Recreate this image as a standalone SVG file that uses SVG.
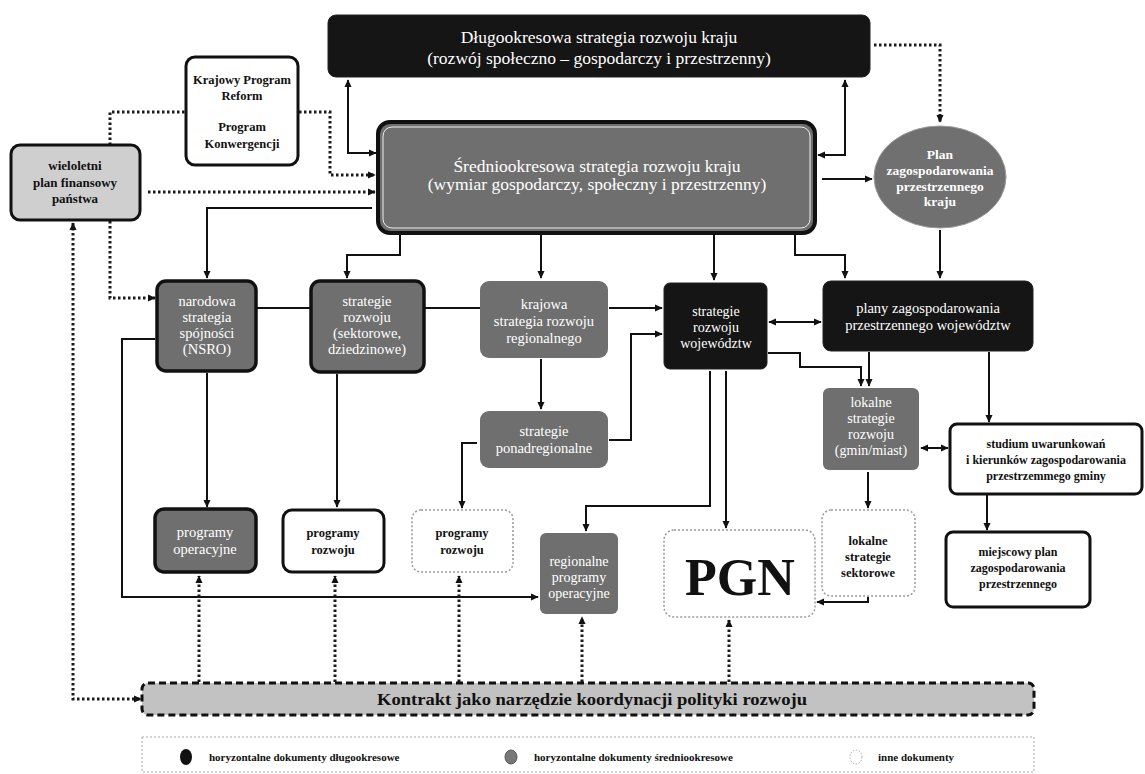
<svg xmlns="http://www.w3.org/2000/svg" width="1145" height="774" viewBox="0 0 1145 774">
<defs>
<marker id="ah" viewBox="0 0 10 10" refX="9" refY="5" markerWidth="8" markerHeight="8" markerUnits="userSpaceOnUse" orient="auto-start-reverse"><path d="M0,0.5 L10,5 L0,9.5 z" fill="#111"/></marker>
<style>
.t{font-family:"Liberation Serif","DejaVu Serif",serif;text-anchor:middle}
.w{fill:#fff}
.k{fill:#111;font-weight:bold}
.g{font-size:14.5px}
.blk{fill:#151515;stroke:#222;stroke-width:1}
.gry{fill:#6f6f6f}
.gryb{fill:#6f6f6f;stroke:#111;stroke-width:3.5}
.wht{fill:#fff;stroke:#111;stroke-width:3}
.dot{fill:#fff;stroke:#999;stroke-width:1.5;stroke-dasharray:2 2}
.ln{fill:none;stroke:#111;stroke-width:2}
.dl{fill:none;stroke:#1a1a1a;stroke-width:3;stroke-dasharray:2.5 2.5}
</style>
</defs>
<rect width="1145" height="774" fill="#fff"/>

<g id="connectors">
<path class="ln" d="M348,80 V153 H376" marker-start="url(#ah)" marker-end="url(#ah)"/>
<path class="ln" d="M845,80 V155 H818" marker-start="url(#ah)" marker-end="url(#ah)"/>
<path class="dl" d="M874,45 H940 V122" marker-end="url(#ah)"/>
<path class="ln" d="M822,179 H872" marker-end="url(#ah)"/>
<path class="ln" d="M940,230 V278" marker-end="url(#ah)"/>
<path class="ln" d="M795,234 V255 H845 V278" marker-end="url(#ah)"/>
<path class="ln" d="M714,234 V280" marker-end="url(#ah)"/>
<path class="ln" d="M541,234 V278" marker-end="url(#ah)"/>
<path class="ln" d="M400,234 V255 H347 V278" marker-end="url(#ah)"/>
<path class="ln" d="M372,208 H207 V278" marker-end="url(#ah)"/>
<path class="dl" d="M148,192 H375" marker-end="url(#ah)"/>
<path class="dl" d="M110,145 V112 H186"/>
<path class="dl" d="M299,112 H330 V175 H375" marker-end="url(#ah)"/>
<path class="dl" d="M110,221 V298 H155" marker-end="url(#ah)"/>
<path class="dl" d="M73,223 V699 H141" marker-start="url(#ah)" marker-end="url(#ah)"/>
<path class="ln" d="M257,308 H311"/>
<path class="ln" d="M424,308 H480"/>
<path class="ln" d="M207,373 V507" marker-end="url(#ah)"/>
<path class="ln" d="M337,374 V507" marker-end="url(#ah)"/>
<path class="ln" d="M541,359 V409" marker-end="url(#ah)"/>
<path class="ln" d="M609,308 H662" marker-end="url(#ah)"/>
<path class="ln" d="M609,440 H631 V334 H662" marker-end="url(#ah)"/>
<path class="ln" d="M477,443 H462 V508" marker-end="url(#ah)"/>
<path class="ln" d="M769,322 H821" marker-start="url(#ah)" marker-end="url(#ah)"/>
<path class="ln" d="M768,353 H800 V367 H861 V386" marker-end="url(#ah)"/>
<path class="ln" d="M869,352 V386" marker-end="url(#ah)"/>
<path class="ln" d="M989,352 V422" marker-end="url(#ah)"/>
<path class="ln" d="M921,448 H948" marker-start="url(#ah)" marker-end="url(#ah)"/>
<path class="ln" d="M868,472 V508" marker-end="url(#ah)"/>
<path class="ln" d="M987,495 V530" marker-end="url(#ah)"/>
<path class="ln" d="M868,597 V602 H817" marker-end="url(#ah)"/>
<path class="ln" d="M726,371 V528" marker-end="url(#ah)"/>
<path class="ln" d="M710,371 V506 H586 V531" marker-end="url(#ah)"/>
<path class="ln" d="M155,339 H122 V597 H538" marker-end="url(#ah)"/>
<path class="dl" d="M199,682 V576" marker-end="url(#ah)"/>
<path class="dl" d="M335,682 V576" marker-end="url(#ah)"/>
<path class="dl" d="M459,682 V576" marker-end="url(#ah)"/>
<path class="dl" d="M582,682 V617" marker-end="url(#ah)"/>
<path class="dl" d="M729,682 V620" marker-end="url(#ah)"/>
</g>

<g id="dlugookresowa">
<rect class="blk" x="328" y="15" width="542" height="62" rx="8"/>
<text class="t w" x="599" y="43" font-size="17.5">Długookresowa strategia rozwoju kraju</text>
<text class="t w" x="599" y="64" font-size="17.5">(rozwój społeczno – gospodarczy i przestrzenny)</text>
</g>

<g id="krajowy-program">
<rect class="wht" x="186" y="57" width="112" height="108" rx="9"/>
<text class="t k" x="242" y="84" font-size="12.5">Krajowy Program</text>
<text class="t k" x="242" y="100" font-size="12.5">Reform</text>
<text class="t k" x="242" y="131" font-size="12.5">Program</text>
<text class="t k" x="242" y="148" font-size="12.5">Konwergencji</text>
</g>

<g id="wieloletni">
<rect x="11" y="145" width="129" height="75" rx="9" fill="#cfcfcf" stroke="#111" stroke-width="3"/>
<text class="t k" x="75" y="170" font-size="13">wieloletni</text>
<text class="t k" x="75" y="187" font-size="13">plan finansowy</text>
<text class="t k" x="75" y="203" font-size="13">państwa</text>
</g>

<g id="sredniookresowa">
<rect x="378" y="122" width="437" height="111" rx="12" fill="#6f6f6f" stroke="#111" stroke-width="4"/>
<rect x="383" y="127" width="427" height="101" rx="9" fill="none" stroke="#eee" stroke-width="1"/>
<text class="t w" x="597" y="172" font-size="17.5">Średniookresowa strategia rozwoju kraju</text>
<text class="t w" x="597" y="190" font-size="17.5">(wymiar gospodarczy, społeczny i przestrzenny)</text>
</g>

<g id="plan-kraju">
<ellipse cx="940" cy="177" rx="66" ry="51" fill="#707070" stroke="#999" stroke-width="1"/>
<text class="t w" x="940" y="159" font-size="13.5" font-weight="bold">Plan</text>
<text class="t w" x="940" y="175" font-size="13.5" font-weight="bold">zagospodarowania</text>
<text class="t w" x="940" y="191" font-size="13.5" font-weight="bold">przestrzennego</text>
<text class="t w" x="940" y="206" font-size="13.5" font-weight="bold">kraju</text>
</g>

<g id="narodowa">
<rect class="gryb" x="157" y="281" width="99" height="90" rx="9"/>
<text class="t w g" x="207" y="306">narodowa</text>
<text class="t w g" x="207" y="322">strategia</text>
<text class="t w g" x="207" y="338">spójności</text>
<text class="t w g" x="207" y="354">(NSRO)</text>
</g>

<g id="strategie-rozwoju">
<rect class="gryb" x="311" y="281" width="113" height="91" rx="9"/>
<text class="t w g" x="367" y="306">strategie</text>
<text class="t w g" x="367" y="322">rozwoju</text>
<text class="t w g" x="367" y="338">(sektorowe,</text>
<text class="t w g" x="367" y="354">dziedzinowe)</text>
</g>

<g id="krajowa-strategia">
<rect class="gry" x="480" y="281" width="128" height="77" rx="9"/>
<text class="t w g" x="544" y="309">krajowa</text>
<text class="t w g" x="544" y="326">strategia rozwoju</text>
<text class="t w g" x="544" y="343">regionalnego</text>
</g>

<g id="strategie-wojewodztw">
<rect class="blk" x="664" y="283" width="103" height="86" rx="6"/>
<text class="t w" x="716" y="316" font-size="14">strategie</text>
<text class="t w" x="716" y="332" font-size="14">rozwoju</text>
<text class="t w" x="716" y="348" font-size="14">województw</text>
</g>

<g id="plany-wojewodztw">
<rect class="blk" x="823" y="281" width="210" height="70" rx="8"/>
<text class="t w" x="928" y="313" font-size="14.5">plany zagospodarowania</text>
<text class="t w" x="928" y="330" font-size="14.5">przestrzennego województw</text>
</g>

<g id="ponadregionalne">
<rect class="gry" x="480" y="411" width="128" height="57" rx="9"/>
<text class="t w g" x="544" y="436">strategie</text>
<text class="t w g" x="544" y="453">ponadregionalne</text>
</g>

<g id="lokalne-rozwoju">
<rect class="gry" x="823" y="388" width="96" height="82" rx="6"/>
<text class="t w" x="871" y="407" font-size="14">lokalne</text>
<text class="t w" x="871" y="423" font-size="14">strategie</text>
<text class="t w" x="871" y="439" font-size="14">rozwoju</text>
<text class="t w" x="871" y="455" font-size="14">(gmin/miast)</text>
</g>

<g id="studium">
<rect class="wht" x="950" y="424" width="192" height="70" rx="7"/>
<text class="t k" x="1046" y="448" font-size="12">studium uwarunkowań</text>
<text class="t k" x="1046" y="464" font-size="12">i kierunków zagospodarowania</text>
<text class="t k" x="1046" y="480" font-size="12">przestrzemmego gminy</text>
</g>

<g id="programy-operacyjne">
<rect class="gryb" x="155" y="509" width="101" height="63" rx="9"/>
<text class="t w g" x="205" y="537">programy</text>
<text class="t w g" x="205" y="554">operacyjne</text>
</g>

<g id="programy-rozwoju-1">
<rect class="wht" x="283" y="510" width="101" height="62" rx="9"/>
<text class="t k" x="333" y="537" font-size="12.5">programy</text>
<text class="t k" x="333" y="554" font-size="12.5">rozwoju</text>
</g>

<g id="programy-rozwoju-2">
<rect class="dot" x="412" y="510" width="101" height="62" rx="9"/>
<text class="t k" x="462" y="537" font-size="12.5">programy</text>
<text class="t k" x="462" y="554" font-size="12.5">rozwoju</text>
</g>

<g id="regionalne-programy">
<rect class="gry" x="540" y="533" width="78" height="81" rx="6"/>
<text class="t w" x="579" y="566" font-size="14">regionalne</text>
<text class="t w" x="579" y="582" font-size="14">programy</text>
<text class="t w" x="579" y="598" font-size="14">operacyjne</text>
</g>

<g id="pgn">
<rect class="dot" x="664" y="530" width="151" height="87" rx="10"/>
<text class="t" x="740" y="595" font-size="52" font-weight="bold" fill="#111">PGN</text>
</g>

<g id="lokalne-sektorowe">
<rect class="dot" x="822" y="510" width="93" height="86" rx="9"/>
<text class="t k" x="868" y="545" font-size="12.5">lokalne</text>
<text class="t k" x="868" y="561" font-size="12.5">strategie</text>
<text class="t k" x="868" y="577" font-size="12.5">sektorowe</text>
</g>

<g id="miejscowy-plan">
<rect class="wht" x="946" y="532" width="144" height="75" rx="7"/>
<text class="t k" x="1018" y="556" font-size="12">miejscowy plan</text>
<text class="t k" x="1018" y="572" font-size="12">zagospodarowania</text>
<text class="t k" x="1018" y="588" font-size="12">przestrzennego</text>
</g>

<g id="kontrakt">
<rect x="142" y="683" width="892" height="32" rx="6" fill="#c2c2c2" stroke="#111" stroke-width="3" stroke-dasharray="7 4"/>
<text class="t k" x="592" y="705" font-size="17" textLength="430" lengthAdjust="spacingAndGlyphs">Kontrakt jako narzędzie koordynacji polityki rozwoju</text>
</g>

<g id="legenda">
<rect x="142" y="737" width="892" height="35" fill="none" stroke="#aaa" stroke-width="1" stroke-dasharray="2 2"/>
<ellipse cx="186" cy="757" rx="6" ry="8" fill="#111"/>
<text x="209" y="761" font-family="Liberation Serif, DejaVu Serif, serif" font-size="11" font-weight="bold" fill="#111">horyzontalne dokumenty długookresowe</text>
<ellipse cx="511" cy="757" rx="6" ry="7" fill="#777" stroke="#555" stroke-width="1"/>
<text x="534" y="761" font-family="Liberation Serif, DejaVu Serif, serif" font-size="11" font-weight="bold" fill="#111">horyzontalne dokumenty średniookresowe</text>
<ellipse cx="856" cy="757" rx="6" ry="7" fill="#fff" stroke="#aaa" stroke-width="1" stroke-dasharray="1.5 1.5"/>
<text x="878" y="761" font-family="Liberation Serif, DejaVu Serif, serif" font-size="11" font-weight="bold" fill="#111">inne dokumenty</text>
</g>
</svg>
